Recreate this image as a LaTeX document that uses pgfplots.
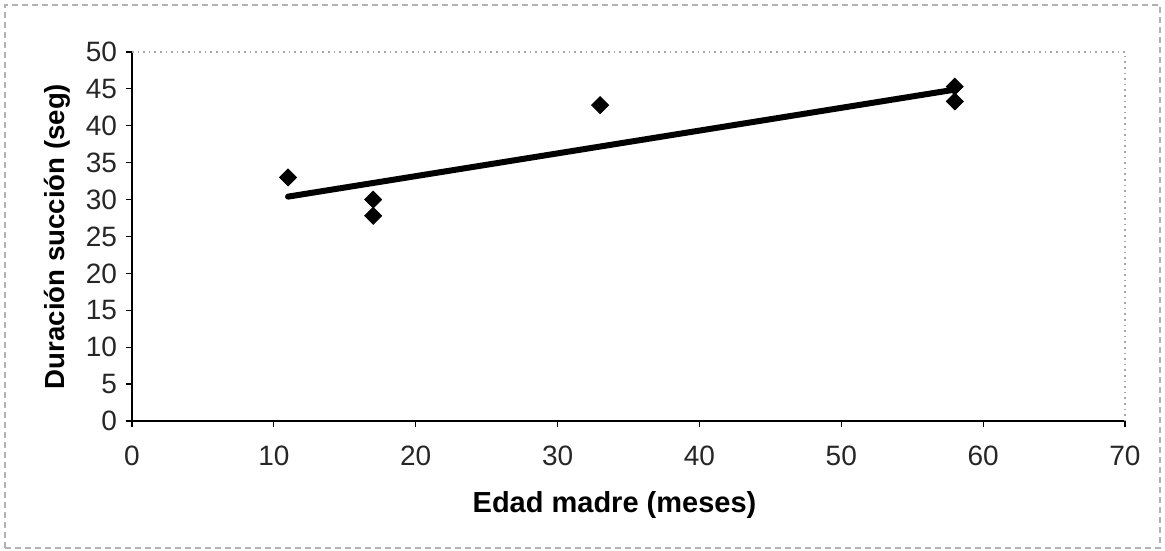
\documentclass[border=0pt]{standalone}
\usepackage{pgfplots}
\pgfplotsset{compat=1.18}
\usepackage{fontspec}
\setmainfont{Liberation Sans}

\begin{document}
\begin{tikzpicture}

% scatter of suckling time against mother's age, with linear trend
\begin{axis}[
    name=main,
    scale only axis,
    width=496.5pt,
    height=184.5pt,
    xmin=0, xmax=70,
    ymin=0, ymax=50,
    xtick={0,10,...,70},
    ytick={0,5,...,50},
    axis x line*=bottom,
    axis y line*=left,
    axis line style={black, line width=0.8pt, -},
    tick align=outside,
    major tick length=3pt,
    tick style={black, line width=0.6pt},
    ticklabel style={font=\fontsize{14}{16}\selectfont, text=black!85},
    /pgf/number format/assume math mode=true,
    xticklabel style={yshift=-6pt},
    yticklabel style={xshift=-1pt},
    xlabel={\textbf{Edad madre (meses)}},
    ylabel={\textbf{Duración succión (seg)}},
    xlabel style={font=\fontsize{14.5}{17}\selectfont, yshift=-6pt, xshift=-7pt},
    ylabel style={font=\fontsize{13.8}{16}\selectfont, yshift=1pt},
    clip=false,
]

% plot area border (top and right)
\draw[gray!70, dotted, line width=0.8pt] (rel axis cs:0,1) -- (rel axis cs:1,1) -- (rel axis cs:1,0);

% observations
\addplot[only marks, mark=square*, mark size=3pt, mark options={rotate=45, fill=black, draw=black}] coordinates {
(11,33) (17,30) (17,27.8) (33,42.8) (58,45.3) (58,43.3)
};

% linear trend line
\addplot[black, line width=3pt, line cap=round] coordinates {
(11,30.4) (58,44.9)
};

\end{axis}

% chart border
\draw[gray!60, densely dashed, line width=0.8pt]
    ([xshift=-63.5pt, yshift=-63.5pt]main.south west) rectangle ([xshift=17.5pt, yshift=23.5pt]main.north east);
\path[use as bounding box]
    ([xshift=-66pt, yshift=-65pt]main.south west) rectangle ([xshift=20pt, yshift=26pt]main.north east);

\end{tikzpicture}
\end{document}
